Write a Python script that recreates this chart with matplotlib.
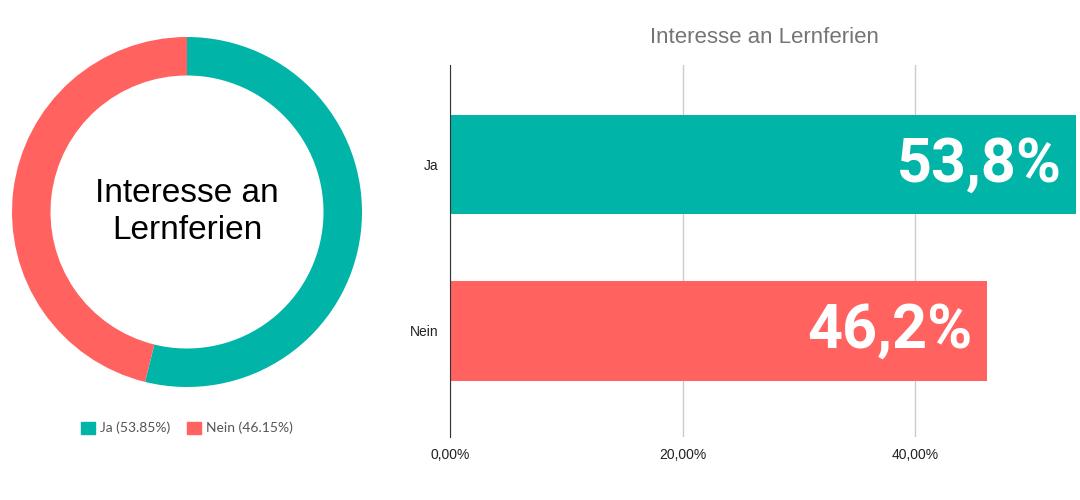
import matplotlib
matplotlib.use("Agg")
import matplotlib.pyplot as plt
import matplotlib.patches as mpatches
from matplotlib.ticker import FuncFormatter

plt.rcParams["font.family"] = ["Liberation Sans", "DejaVu Sans"]

categories = ["Ja", "Nein"]
shares = [53.85, 46.15]
bar_labels = ["53,8%", "46,2%"]
colors = ["#00B5A7", "#FF625F"]

fig = plt.figure(figsize=(10.8, 5), dpi=100)

# Donut
ax1 = fig.add_axes([12/1080, 1-387/500, 350/1080, 350/500])
ax1.pie(shares, colors=colors, startangle=90, counterclock=False,
        wedgeprops=dict(width=0.22, edgecolor="none"))
ax1.set_xlim(-1, 1)
ax1.set_ylim(-1, 1)
ax1.set_aspect("equal")
ax1.text(0, 0, "Interesse an\nLernferien", ha="center", va="center",
         fontsize=24, color="black", linespacing=1.25)
handles = [mpatches.Patch(color=c, label=f"{cat} ({s:.2f}%)") for cat, s, c in zip(categories, shares, colors)]
fig.legend(handles=handles, loc="center", bbox_to_anchor=(187/1080, 1-428/500),
           ncol=2, frameon=False, handlelength=1, handleheight=1,
           labelcolor="#555555", columnspacing=1.2, handletextpad=0.4,
           prop={"family": "Lato", "size": 10})

# Bar chart
ax2 = fig.add_axes([450/1080, 1-437/500, 628/1080, 372/500])
y = [0, 1]
ax2.barh(y, shares, height=0.6, color=colors)
ax2.set_ylim(1.64, -0.6)
ax2.set_xlim(0, 54)
ax2.set_yticks(y)
ax2.set_yticklabels(categories, fontsize=10, color="#222222")
ax2.set_xticks([0, 20, 40])
ax2.xaxis.set_major_formatter(FuncFormatter(lambda v, p: f"{v:.2f}%".replace(".", ",")))
ax2.tick_params(axis="both", length=0, labelsize=10, colors="#222222", pad=8)
ax2.grid(axis="x", color="#cccccc", linewidth=1)
ax2.set_axisbelow(True)
for s in ["top", "right", "bottom"]:
    ax2.spines[s].set_visible(False)
ax2.spines["left"].set_color("#333333")
for yi, v, lab in zip(y, shares, bar_labels):
    ax2.text(v - 1.2, yi, lab, ha="right", va="center", color="white",
             fontsize=44, fontweight="bold", fontfamily="Roboto")
ax2.set_title("Interesse an Lernferien", fontsize=16, color="#757575", pad=16)

fig.savefig("out.png", dpi=100)
